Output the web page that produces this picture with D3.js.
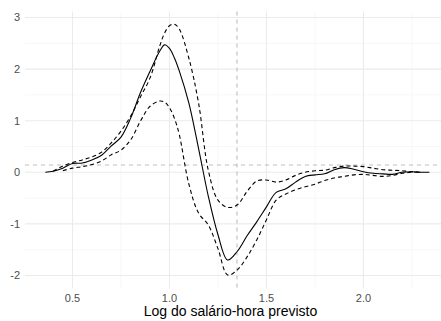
<!DOCTYPE html>
<html>
<head>
<meta charset="utf-8">
<script src="https://cdn.jsdelivr.net/npm/d3@7"></script>
<style>
  body { margin: 0; background: #fff; }
  svg { display: block; font-family: "Liberation Sans", Arial, sans-serif; }
  .tick-label { fill: #4d4d4d; font-size: 11px; }
</style>
</head>
<body>
<svg id="chart" width="441" height="321"></svg>
<script>
// predicted log hourly wage grid
const xs = [0.36, 0.40, 0.45, 0.50, 0.55, 0.60, 0.65, 0.70, 0.75, 0.80, 0.85, 0.90, 0.95, 0.975, 1.00,
  1.025, 1.05, 1.10, 1.15, 1.20, 1.25, 1.30, 1.35, 1.40, 1.45, 1.50, 1.55, 1.60, 1.65, 1.70, 1.75,
  1.80, 1.85, 1.90, 1.95, 2.00, 2.05, 2.10, 2.15, 2.20, 2.25, 2.30, 2.34];

const estimate = [0.00, 0.02, 0.08, 0.17, 0.18, 0.24, 0.33, 0.51, 0.68, 1.05, 1.54, 1.96, 2.35, 2.47, 2.40,
  2.22, 1.97, 1.34, 0.46, -0.46, -1.21, -1.70, -1.53, -1.23, -0.96, -0.67, -0.39, -0.32, -0.19, -0.08, -0.05,
  -0.03, 0.05, 0.09, 0.06, 0.01, -0.02, -0.03, -0.04, 0.00, 0.01, 0.00, 0.00];

const upper = [null, 0.02, 0.12, 0.19, 0.24, 0.30, 0.39, 0.57, 0.80, 1.09, 1.46, 1.83, 2.45, 2.70, 2.84,
  2.87, 2.78, 2.21, 1.34, 0.04, -0.54, -0.68, -0.63, -0.37, -0.17, -0.15, -0.19, -0.15, -0.06, 0.00, 0.03,
  0.04, 0.09, 0.12, 0.12, 0.11, 0.08, 0.05, 0.04, 0.03, 0.01, 0.00, null];

const lower = [null, null, 0.03, 0.08, 0.11, 0.15, 0.22, 0.34, 0.43, 0.63, 0.99, 1.28, 1.38, 1.36, 1.25,
  1.05, 0.74, -0.23, -0.79, -1.02, -1.48, -1.99, -1.89, -1.64, -1.31, -0.92, -0.54, -0.42, -0.34, -0.28, -0.23,
  -0.16, -0.11, -0.08, -0.05, -0.04, -0.06, -0.08, -0.06, -0.02, 0.00, 0.00, null];

const xTicks = [0.5, 1.0, 1.5, 2.0];
const xMinor = [0.75, 1.25, 1.75, 2.25];
const yTicks = [-2, -1, 0, 1, 2, 3];
const yMinor = [-1.5, -0.5, 0.5, 1.5, 2.5];
const vRef = 1.348;
const hRef = 0.14;
const xTitle = "Log do salário-hora previsto";

const svg = d3.select("#chart");
const pLeft = 25, pRight = 441, pTop = 11.6, pBottom = 288.6;

const x = d3.scaleLinear().domain([0.255, 2.4]).range([pLeft, pRight]);
const y = d3.scaleLinear().domain([-2.254, 3.114]).range([pBottom, pTop]);

const grid = svg.append("g");
grid.selectAll(".ymin").data(yMinor).join("line")
  .attr("x1", pLeft).attr("x2", pRight)
  .attr("y1", d => y(d)).attr("y2", d => y(d))
  .attr("stroke", "#f1f1f1").attr("stroke-width", 0.6);
grid.selectAll(".xmin").data(xMinor).join("line")
  .attr("x1", d => x(d)).attr("x2", d => x(d))
  .attr("y1", pTop).attr("y2", pBottom)
  .attr("stroke", "#f1f1f1").attr("stroke-width", 0.6);
grid.selectAll(".ymaj").data(yTicks).join("line")
  .attr("x1", pLeft).attr("x2", pRight)
  .attr("y1", d => y(d)).attr("y2", d => y(d))
  .attr("stroke", "#ebebeb").attr("stroke-width", 1.1);
grid.selectAll(".xmaj").data(xTicks).join("line")
  .attr("x1", d => x(d)).attr("x2", d => x(d))
  .attr("y1", pTop).attr("y2", pBottom)
  .attr("stroke", "#ebebeb").attr("stroke-width", 1.1);

// reference lines
svg.append("line")
  .attr("x1", pLeft).attr("x2", pRight)
  .attr("y1", y(hRef)).attr("y2", y(hRef))
  .attr("stroke", "#bdbdbd").attr("stroke-width", 1.1)
  .attr("stroke-dasharray", "4,4");
svg.append("line")
  .attr("x1", x(vRef)).attr("x2", x(vRef))
  .attr("y1", pTop).attr("y2", pBottom)
  .attr("stroke", "#bdbdbd").attr("stroke-width", 1.1)
  .attr("stroke-dasharray", "4,4");

const line = d3.line()
  .defined(d => d[1] != null)
  .x(d => x(d[0]))
  .y(d => y(d[1]))
  .curve(d3.curveCatmullRom);

const series = [
  { values: upper, dash: "4,3" },
  { values: lower, dash: "4,3" },
  { values: estimate, dash: null }
];

svg.selectAll(".curve").data(series).join("path")
  .attr("class", "curve")
  .attr("d", s => line(xs.map((v, i) => [v, s.values[i]])))
  .attr("fill", "none")
  .attr("stroke", "#000")
  .attr("stroke-width", 1.1)
  .attr("stroke-dasharray", s => s.dash);

// axis labels
svg.selectAll(".xl").data(xTicks).join("text")
  .attr("class", "tick-label")
  .attr("x", d => x(d)).attr("y", 301.5)
  .attr("text-anchor", "middle")
  .text(d3.format(".1f"));
svg.selectAll(".yl").data(yTicks).join("text")
  .attr("class", "tick-label")
  .attr("x", 20).attr("y", d => y(d) + 4)
  .attr("text-anchor", "end")
  .text(d => d);

svg.append("text")
  .attr("x", (pLeft + 436) / 2).attr("y", 315.5)
  .attr("text-anchor", "middle")
  .attr("font-size", 14)
  .attr("fill", "#000")
  .text(xTitle);
</script>
</body>
</html>
